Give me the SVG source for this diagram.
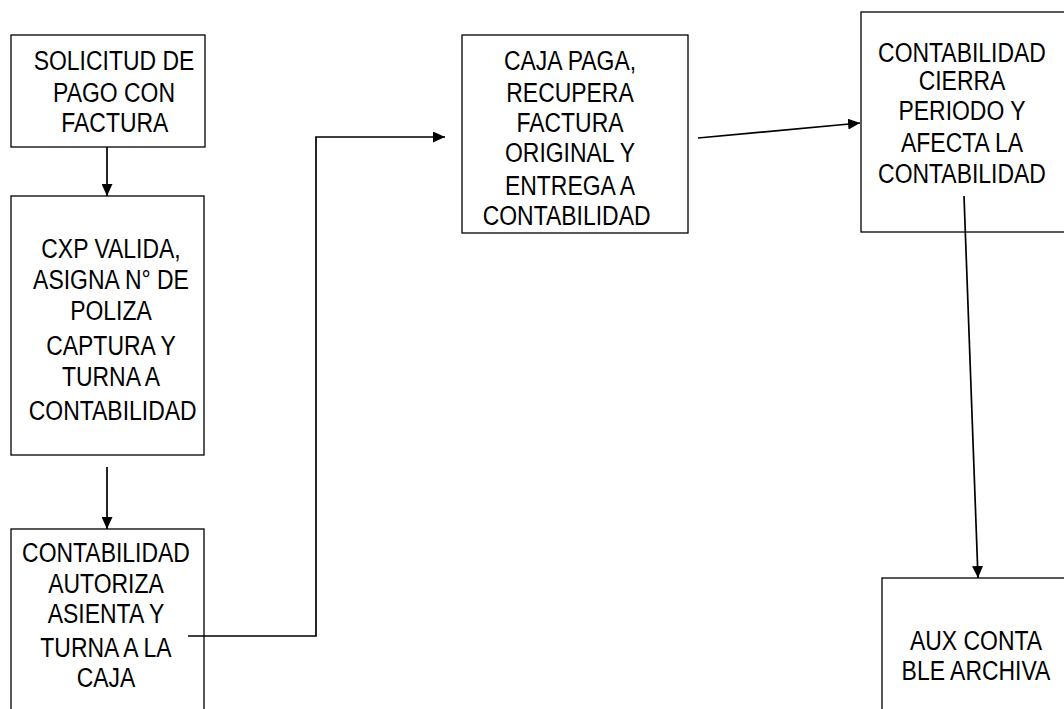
<svg xmlns="http://www.w3.org/2000/svg" width="1064" height="709" viewBox="0 0 1064 709">
<style>
.box{fill:#fff;stroke:#000;stroke-width:1.3}
.lbl{font-family:"Liberation Sans",Arial,sans-serif;font-size:27px;fill:#000;text-anchor:middle}
.con{fill:none;stroke:#000;stroke-width:1.7}
</style>
<defs>
<marker id="ah" markerWidth="12" markerHeight="11" refX="12" refY="5.5" orient="auto" markerUnits="userSpaceOnUse">
<path d="M0,0 L12,5.5 L0,11 Z" fill="#000"/>
</marker>
</defs>
<rect width="1064" height="709" fill="#fff"/>
<g id="n1">
<rect class="box" x="11" y="35" width="194" height="112"/>
<text class="lbl" transform="translate(114 0) scale(0.85 1)"><tspan x="0" y="70">SOLICITUD DE</tspan><tspan x="0" y="102">PAGO CON</tspan><tspan x="1" y="132">FACTURA</tspan></text>
</g>
<g id="n2">
<rect class="box" x="11" y="196" width="193" height="259"/>
<text class="lbl" transform="translate(111 0) scale(0.85 1)"><tspan x="0" y="258">CXP VALIDA,</tspan><tspan x="0" y="289">ASIGNA N° DE</tspan><tspan x="0" y="320">POLIZA</tspan><tspan x="0" y="355">CAPTURA Y</tspan><tspan x="0" y="386">TURNA A</tspan><tspan x="2" y="420">CONTABILIDAD</tspan></text>
</g>
<g id="n3">
<rect class="box" x="11" y="529" width="193" height="190"/>
<text class="lbl" transform="translate(106 0) scale(0.85 1)"><tspan x="0" y="562">CONTABILIDAD</tspan><tspan x="0" y="593">AUTORIZA</tspan><tspan x="0" y="623">ASIENTA Y</tspan><tspan x="0" y="657">TURNA A LA</tspan><tspan x="0" y="687">CAJA</tspan></text>
</g>
<g id="n4">
<rect class="box" x="462" y="35" width="226" height="198"/>
<text class="lbl" transform="translate(570 0) scale(0.85 1)"><tspan x="0" y="70">CAJA PAGA,</tspan><tspan x="0" y="102">RECUPERA</tspan><tspan x="0" y="132">FACTURA</tspan><tspan x="0" y="162">ORIGINAL Y</tspan><tspan x="0" y="195">ENTREGA A</tspan><tspan x="-4" y="225">CONTABILIDAD</tspan></text>
</g>
<g id="n5">
<rect class="box" x="861" y="12" width="220" height="220"/>
<text class="lbl" transform="translate(962 0) scale(0.85 1)"><tspan x="0" y="62">CONTABILIDAD</tspan><tspan x="0" y="90">CIERRA</tspan><tspan x="0" y="120">PERIODO Y</tspan><tspan x="0" y="152">AFECTA LA</tspan><tspan x="0" y="183">CONTABILIDAD</tspan></text>
</g>
<g id="n6">
<rect class="box" x="882" y="578" width="200" height="150"/>
<text class="lbl" transform="translate(976 0) scale(0.85 1)"><tspan x="0" y="650">AUX CONTA</tspan><tspan x="0" y="680">BLE ARCHIVA</tspan></text>
</g>
<g id="connectors">
<line class="con" x1="107" y1="147" x2="107" y2="196" marker-end="url(#ah)"/>
<line class="con" x1="107" y1="467" x2="107" y2="529" marker-end="url(#ah)"/>
<polyline class="con" points="188,636 316,636 316,137 445,137" marker-end="url(#ah)"/>
<line class="con" x1="698" y1="138" x2="860" y2="123" marker-end="url(#ah)"/>
<line class="con" x1="964" y1="196" x2="978" y2="578" marker-end="url(#ah)"/>
</g>
</svg>
